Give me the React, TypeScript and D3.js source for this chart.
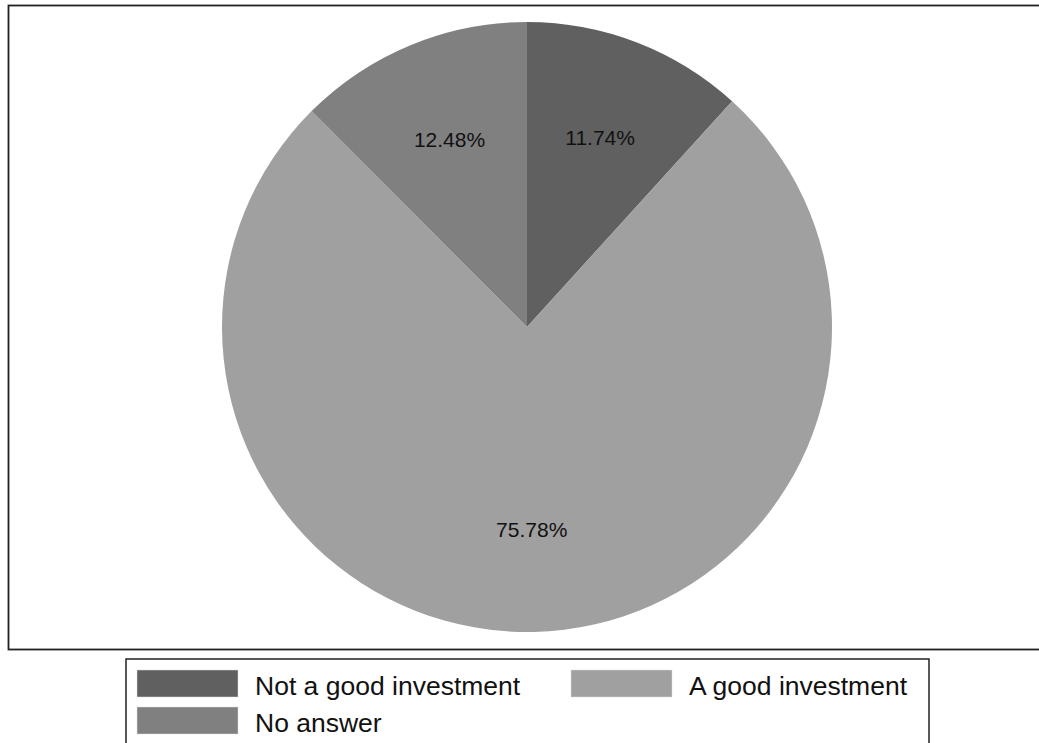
import React from "react";
import * as d3 from "d3";

const categories = ["Not a good investment", "A good investment", "No answer"];
const values = [11.74, 75.78, 12.48];
const colors = ["#606060", "#a0a0a0", "#808080"];

const W = 1039;
const H = 743;

export default function App() {
  const cx = 527;
  const cy = 327;
  const r = 305;
  const pie = d3.pie<number>().sort(null).value((d) => d)(values);
  const arc = d3.arc<d3.PieArcDatum<number>>().innerRadius(0).outerRadius(r);
  const labelArc = d3.arc<d3.PieArcDatum<number>>().innerRadius(r * 0.665).outerRadius(r * 0.665);

  const legendPos = [
    { x: 137, y: 670 },
    { x: 571, y: 670 },
    { x: 137, y: 707 },
  ];

  return (
    <div style={{ position: "absolute", left: 0, top: 0 }}>
      <svg width={W} height={H} style={{ display: "block" }} fontFamily="'Liberation Sans', Arial, Helvetica, sans-serif">
        <rect x={0} y={0} width={W} height={H} fill="#fff" />
        <rect x={8.5} y={5.5} width={W + 10} height={644} fill="#fff" stroke="#222" strokeWidth={1.8} />
        <g transform={`translate(${cx},${cy})`}>
          {pie.map((p, i) => (
            <path key={categories[i]} d={arc(p) || ""} fill={colors[i]} />
          ))}
          {pie.map((p, i) => {
            const [lx, ly] = labelArc.centroid(p);
            return (
              <text key={"l" + i} x={lx} y={ly} dy="0.36em" textAnchor="middle" fontSize={21} fill="#111">
                {values[i].toFixed(2)}%
              </text>
            );
          })}
        </g>
        <rect x={126} y={659} width={803} height={120} fill="#fff" stroke="#222" strokeWidth={1.5} />
        {categories.map((c, i) => (
          <g key={"lg" + i} transform={`translate(${legendPos[i].x},${legendPos[i].y})`}>
            <rect x={0} y={0} width={101} height={27} fill={colors[i]} stroke="#ddd" strokeWidth={0.5} />
            <text x={118} y={25} fontSize={26.5} fill="#111">
              {c}
            </text>
          </g>
        ))}
      </svg>
    </div>
  );
}
